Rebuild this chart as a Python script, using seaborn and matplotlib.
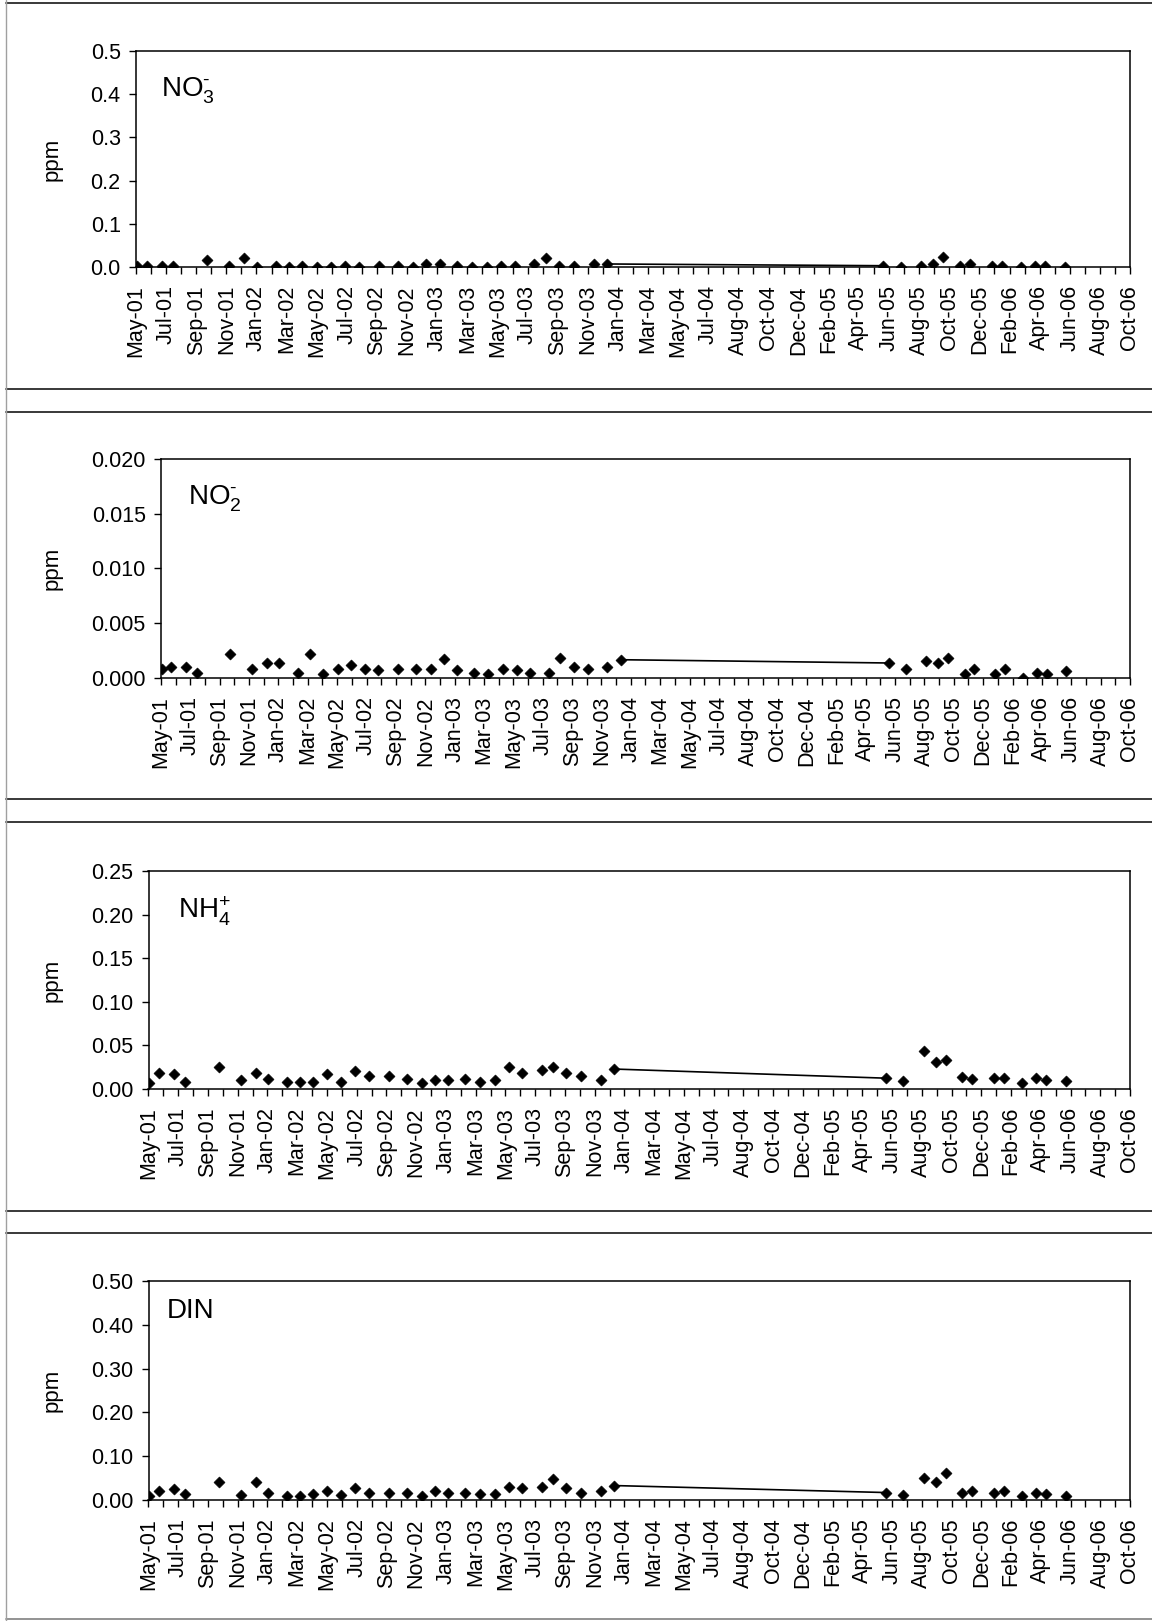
import numpy as np
import pandas as pd
import matplotlib
matplotlib.use("Agg")
import matplotlib.pyplot as plt
import matplotlib.dates as mdates
from matplotlib.ticker import FixedLocator, FixedFormatter, FormatStrFormatter, MultipleLocator
from matplotlib.lines import Line2D
import seaborn as sns

# ---------------- data ----------------
sample_dates = [
    "2001-05-20", "2001-06-08", "2001-07-08", "2001-07-30", "2001-10-07", "2001-11-20", "2001-12-20",
    "2002-01-14", "2002-02-21", "2002-03-19", "2002-04-14", "2002-05-14", "2002-06-10", "2002-07-08",
    "2002-08-05", "2002-09-15", "2002-10-21", "2002-11-20", "2002-12-17",
    "2003-01-13", "2003-02-16", "2003-03-18", "2003-04-17", "2003-05-15", "2003-06-11", "2003-07-20",
    "2003-08-12", "2003-09-08", "2003-10-08", "2003-11-16", "2003-12-13",
    "2005-06-14", "2005-07-19", "2005-08-29", "2005-09-22", "2005-10-12", "2005-11-15", "2005-12-04",
    "2006-01-17", "2006-02-06", "2006-03-15", "2006-04-12", "2006-05-03", "2006-06-11",
]

no3 = [0.002, 0.003, 0.003, 0.002, 0.017, 0.003, 0.020, 0.001, 0.002, 0.001,
       0.003, 0.001, 0.001, 0.003, 0.001, 0.002, 0.003, 0.001, 0.008, 0.008,
       0.003, 0.001, 0.001, 0.003, 0.003, 0.007, 0.020, 0.002, 0.002, 0.007,
       0.007, 0.003, 0.001, 0.003, 0.007, 0.024, 0.002, 0.006, 0.002, 0.003,
       0.001, 0.003, 0.003, 0.001]

no2 = [0.00085, 0.0010, 0.0010, 0.0005, 0.0022, 0.00085, 0.00134, 0.00134, 0.0005, 0.0022,
       0.00037, 0.00085, 0.0012, 0.00085, 0.0007, 0.00085, 0.00085, 0.00085, 0.0017, 0.0007,
       0.0005, 0.00037, 0.00085, 0.0007, 0.0005, 0.0005, 0.00186, 0.0010, 0.00085, 0.0010,
       0.00167, 0.00137, 0.00085, 0.00152, 0.00134, 0.00186, 0.0004, 0.00085, 0.00037, 0.00085,
       0.0000, 0.0005, 0.00037, 0.0006]

nh4 = [0.0068, 0.0188, 0.0169, 0.0083, 0.0256, 0.0102, 0.0188, 0.0120, 0.0083, 0.0083,
       0.0083, 0.0169, 0.0083, 0.0210, 0.0150, 0.0150, 0.0120, 0.0068, 0.0102, 0.0102,
       0.0120, 0.0083, 0.0102, 0.0256, 0.0188, 0.0218, 0.0256, 0.0188, 0.0150, 0.0105,
       0.0229, 0.0124, 0.0087, 0.0436, 0.0312, 0.0338, 0.0143, 0.0117, 0.0124, 0.0124,
       0.0068, 0.0124, 0.0105, 0.0088]

din = [0.009, 0.021, 0.024, 0.013, 0.042, 0.011, 0.042, 0.017, 0.009, 0.009,
       0.013, 0.021, 0.011, 0.027, 0.017, 0.017, 0.017, 0.009, 0.021, 0.017,
       0.017, 0.013, 0.013, 0.030, 0.027, 0.030, 0.047, 0.027, 0.016, 0.021,
       0.033, 0.017, 0.011, 0.051, 0.042, 0.062, 0.017, 0.021, 0.017, 0.021,
       0.009, 0.017, 0.013, 0.009]

# samples joined by a line (gap Dec-03 -> Jun-05)
line_pair = (30, 31)

tick_labels = ["May-01", "Jul-01", "Sep-01", "Nov-01", "Jan-02", "Mar-02", "May-02", "Jul-02",
               "Sep-02", "Nov-02", "Jan-03", "Mar-03", "May-03", "Jul-03", "Sep-03", "Nov-03",
               "Jan-04", "Mar-04", "May-04", "Jul-04", "Aug-04", "Oct-04", "Dec-04", "Feb-05",
               "Apr-05", "Jun-05", "Aug-05", "Oct-05", "Dec-05", "Feb-06", "Apr-06", "Jun-06",
               "Aug-06", "Oct-06"]
axis_start = "2001-05-18"
label_step_days = 60
minor_step_days = 30

panel_names = [r"NO$_3^{\text{-}}$", r"NO$_2^{\text{-}}$", r"NH$_4^{+}$", "DIN"]
panel_series = [no3, no2, nh4, din]
panel_ymax = [0.5, 0.020, 0.25, 0.50]
panel_ystep = [0.1, 0.005, 0.05, 0.10]
panel_yfmt = ["%.1f", "%.3f", "%.2f", "%.2f"]

# ---------------- layout (pixels) ----------------
W, H = 1152, 1621
DPI = 100
boxes = [(136, 51, 1130, 267), (161, 459, 1130, 678), (148.5, 871, 1130, 1089), (148.5, 1281, 1130, 1500)]
name_offsets = [(25, 24), (27, 25), (29, 24), (18, 17)]
ylabel_right = 63

sns.set_theme(style="ticks")
plt.rcParams["font.family"] = ["Liberation Sans", "DejaVu Sans"]
plt.rcParams["mathtext.fontset"] = "custom"
plt.rcParams["mathtext.rm"] = "Liberation Sans"
plt.rcParams["mathtext.it"] = "Liberation Sans"
plt.rcParams["mathtext.default"] = "regular"

fig = plt.figure(figsize=(W / DPI, H / DPI), dpi=DPI)
fig.patch.set_facecolor("white")

dates = pd.to_datetime(sample_dates)
start = pd.Timestamp(axis_start)
n_lab = len(tick_labels)
major_pos = [mdates.date2num(start + pd.Timedelta(days=label_step_days * k)) for k in range(n_lab)]
end_days = label_step_days * (n_lab - 1)
minor_pos = [mdates.date2num(start + pd.Timedelta(days=d))
             for d in range(minor_step_days, end_days, label_step_days)]

for i in range(4):
    L, T, R, B = boxes[i]
    ax = fig.add_axes([L / W, 1 - B / H, (R - L) / W, (B - T) / H])
    df = pd.DataFrame({"date": dates, "value": panel_series[i]})
    sns.scatterplot(data=df, x="date", y="value", marker="D", s=32, color="black",
                    edgecolor="black", linewidth=0.4, ax=ax, legend=False, zorder=3)
    seg = df.iloc[list(line_pair)]
    sns.lineplot(data=seg, x="date", y="value", color="black", linewidth=1.2, ax=ax,
                 legend=False, zorder=2)

    ax.set_xlim(major_pos[0], major_pos[-1])
    ax.set_ylim(0, panel_ymax[i])
    ax.xaxis.set_major_locator(FixedLocator(major_pos))
    ax.xaxis.set_major_formatter(FixedFormatter(tick_labels))
    ax.xaxis.set_minor_locator(FixedLocator(minor_pos))
    ax.yaxis.set_major_locator(MultipleLocator(panel_ystep[i]))
    ax.yaxis.set_major_formatter(FormatStrFormatter(panel_yfmt[i]))

    ax.tick_params(axis="x", which="both", direction="out", length=5, width=1.0, color="black")
    ax.tick_params(axis="x", which="major", labelsize=15.5, labelrotation=90, pad=8,
                   labelcolor="black")
    ax.tick_params(axis="y", which="major", direction="out", length=5, width=1.0,
                   labelsize=15.5, pad=6, labelcolor="black", color="black")
    for sp in ax.spines.values():
        sp.set_visible(True)
        sp.set_color("black")
        sp.set_linewidth(1.1)
    ax.set_facecolor("white")
    ax.grid(False)

    ax.set_xlabel("")
    ax.set_ylabel("ppm", fontsize=16, color="black")
    ax.yaxis.set_label_coords((ylabel_right - L) / (R - L), 0.5)

    dx, dy = name_offsets[i]
    ax.annotate(panel_names[i], xy=(0, 1), xycoords="axes fraction",
                xytext=(dx * 72 / DPI, -dy * 72 / DPI), textcoords="offset points",
                ha="left", va="top", fontsize=20, color="black")

# panel frames
frame_ys = [3, 389, 412, 799, 822, 1211, 1233, 1619]
for k, yy in enumerate(frame_ys):
    col = "#8a8a8a" if k == len(frame_ys) - 1 else "#2a2a2a"
    fig.add_artist(Line2D([5.5 / W, 1.0], [1 - yy / H, 1 - yy / H], transform=fig.transFigure,
                          color=col, linewidth=1.3))
fig.add_artist(Line2D([5.5 / W, 5.5 / W], [0, 1], transform=fig.transFigure,
                      color="#a0a0a0", linewidth=1.0))

fig.savefig("out.png", dpi=DPI, facecolor="white")
